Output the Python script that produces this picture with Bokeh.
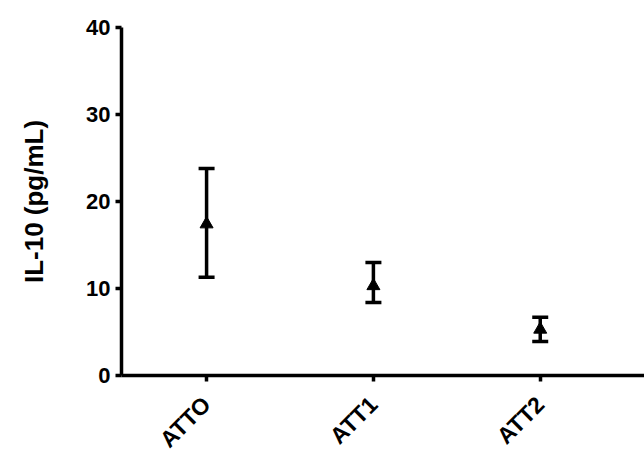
import math
from bokeh.plotting import figure
from bokeh.models import ColumnDataSource, Whisker, TeeHead, FixedTicker, Range1d
from bokeh.embed import file_html
from bokeh.resources import INLINE

groups = ["ATTO", "ATT1", "ATT2"]
means = [17.4, 10.3, 5.3]
upper = [23.8, 13.0, 6.7]
lower = [11.3, 8.4, 3.9]
y_ticks = [0, 10, 20, 30, 40]

xs = list(range(len(groups)))
src = ColumnDataSource(dict(x=xs, mean=means, upper=upper, lower=lower))

p = figure(frame_width=523, frame_height=348, output_backend="svg", toolbar_location=None,
           x_range=Range1d(-0.51, 2.625), y_range=Range1d(0, 40),
           min_border_left=121, min_border_top=27, min_border_right=0, min_border_bottom=70)
p.outline_line_color = None
p.grid.grid_line_color = None
p.background_fill_color = "white"
p.border_fill_color = "white"

w = Whisker(source=src, base="x", upper="upper", lower="lower", dimension="height",
            line_width=3.5, line_color="black",
            upper_head=TeeHead(size=16, line_width=3.5, line_color="black"),
            lower_head=TeeHead(size=16, line_width=3.5, line_color="black"))
p.add_layout(w)
p.scatter("x", "mean", source=src, marker="triangle", size=13, color="black")

font = "Liberation Sans"
for ax in (p.xaxis[0], p.yaxis[0]):
    ax.axis_line_width = 3.5
    ax.major_tick_line_width = 3.5
    ax.major_tick_out = 6
    ax.major_tick_in = 0
    ax.minor_tick_line_color = None
    ax.major_label_text_font = font
    ax.major_label_text_font_style = "bold"
    ax.major_label_text_color = "black"
    ax.axis_line_color = "black"
    ax.major_tick_line_color = "black"

p.yaxis.ticker = FixedTicker(ticks=y_ticks)
p.yaxis.major_label_text_font_size = "22px"
p.yaxis.major_label_standoff = 5
p.yaxis.axis_label = "IL-10 (pg/mL)"
p.yaxis.axis_label_text_font = font
p.yaxis.axis_label_text_font_style = "bold"
p.yaxis.axis_label_text_font_size = "26px"
p.yaxis.axis_label_text_color = "black"
p.yaxis.axis_label_standoff = 34

p.xaxis.ticker = FixedTicker(ticks=xs)
p.xaxis.major_label_overrides = {i: g for i, g in zip(xs, groups)}
p.xaxis.major_label_text_font_size = "23px"
p.xaxis.major_label_orientation = math.pi / 4
p.xaxis.major_label_standoff = 19

open("out.html", "w").write(file_html(p, INLINE))
